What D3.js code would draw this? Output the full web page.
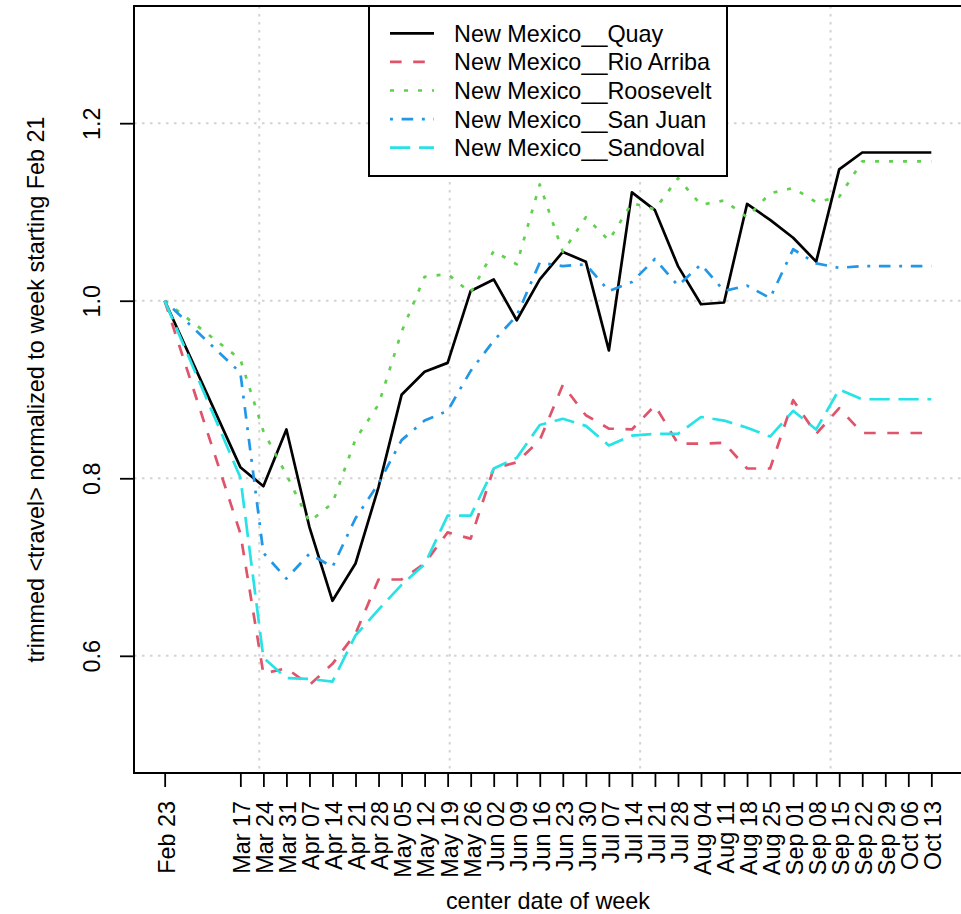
<!DOCTYPE html>
<html><head><meta charset="utf-8">
<script src="https://cdn.jsdelivr.net/npm/d3@7"></script>
<style>
body{margin:0;background:#fff}
svg{display:block}
text{font-family:"Liberation Sans",Arial,sans-serif;fill:#000}
</style>
</head><body>
<svg id="c" width="961" height="914"></svg>
<script>
// ---------- data ----------
const weekLabels = ["Feb 23","Mar 17","Mar 24","Mar 31","Apr 07","Apr 14","Apr 21","Apr 28",
  "May 05","May 12","May 19","May 26","Jun 02","Jun 09","Jun 16","Jun 23","Jun 30",
  "Jul 07","Jul 14","Jul 21","Jul 28","Aug 04","Aug 11","Aug 18","Aug 25",
  "Sep 01","Sep 08","Sep 15","Sep 22","Sep 29","Oct 06","Oct 13"];
const quay      = [1.0,0.8125,0.791,0.855,0.745,0.662,0.704,0.79,0.894,0.920,0.930,1.011,1.024,0.978,1.024,1.055,1.044,0.944,1.122,1.102,1.039,0.996,0.998,1.109,1.091,1.071,1.044,1.148,1.167,1.167,1.167,1.167];
const rioArriba = [1.0,0.738,0.580,0.586,0.567,0.591,0.625,0.686,0.686,0.704,0.739,0.732,0.811,0.818,0.843,0.905,0.871,0.856,0.855,0.882,0.839,0.839,0.840,0.811,0.811,0.888,0.850,0.879,0.851,0.851,0.851,0.851];
const roosevelt = [1.0,0.934,0.853,0.804,0.751,0.772,0.844,0.883,0.965,1.027,1.030,1.009,1.056,1.041,1.131,1.055,1.094,1.068,1.110,1.103,1.138,1.108,1.113,1.094,1.121,1.127,1.111,1.117,1.157,1.157,1.157,1.157];
const sanJuan   = [1.0,0.919,0.716,0.687,0.715,0.700,0.755,0.794,0.843,0.865,0.876,0.921,0.955,0.983,1.043,1.039,1.041,1.011,1.021,1.047,1.017,1.041,1.011,1.017,1.003,1.058,1.042,1.037,1.039,1.039,1.039,1.039];
const sandoval  = [1.0,0.801,0.598,0.575,0.574,0.571,0.623,0.652,0.680,0.703,0.758,0.758,0.811,0.823,0.860,0.867,0.859,0.837,0.848,0.850,0.850,0.869,0.865,0.857,0.847,0.876,0.855,0.900,0.889,0.889,0.889,0.889];
const seriesNames  = ["New Mexico__Quay","New Mexico__Rio Arriba","New Mexico__Roosevelt","New Mexico__San Juan","New Mexico__Sandoval"];
const seriesValues = [quay, rioArriba, roosevelt, sanJuan, sandoval];
const seriesColors = ["#000000","#DF536B","#61D04F","#2297E6","#28E2E5"];
const seriesDash   = [null,"11.6 11.6","4 10","2.9 8.7 11.6 8.7","20.3 8.7"];
const yTicks  = [0.6, 0.8, 1.0, 1.2];
const yLimits = [0.5, 1.3];
const gridDates = ["2020-03-22T18:00:00Z","2020-05-19T15:00:00Z","2020-07-16T12:00:00Z","2020-09-12T09:00:00Z"];
const xTitle = "center date of week";
const yTitle = "trimmed <travel> normalized to week starting Feb 21";

// ---------- layout ----------
const box = {left:134, top:6, right:962, bottom:773};
const FS = 23.4;
const svg = d3.select("#c");

const parse = d3.utcParse("%b %d %Y");
const dates = weekLabels.map(s => parse(s + " 2020"));
const t0 = dates[0], t1 = dates[dates.length-1];
const padT = (t1 - t0) * 0.04;
const x = d3.scaleUtc().domain([new Date(+t0 - padT), new Date(+t1 + padT)]).range([box.left, box.right]);
const padY = (yLimits[1]-yLimits[0]) * 0.04;
const y = d3.scaleLinear().domain([yLimits[0]-padY, yLimits[1]+padY]).range([box.bottom, box.top]);

// grid
const grid = svg.append("g").attr("stroke","#D3D3D3").attr("stroke-width",2).attr("stroke-dasharray","2.5 5.5");
grid.selectAll("line.h").data(yTicks).join("line").attr("class","h")
  .attr("x1",box.left).attr("x2",box.right).attr("y1",d=>y(d)).attr("y2",d=>y(d));
grid.selectAll("line.v").data(gridDates.map(s=>new Date(s))).join("line").attr("class","v")
  .attr("y1",box.top).attr("y2",box.bottom).attr("x1",d=>x(d)).attr("x2",d=>x(d));

// series
const line = d3.line().x((d,i)=>x(dates[i])).y(d=>y(d));
seriesValues.forEach((vals,k)=>{
  svg.append("path").datum(vals).attr("d",line).attr("fill","none")
    .attr("stroke",seriesColors[k]).attr("stroke-width",2.7)
    .attr("stroke-linejoin","round")
    .attr("stroke-dasharray",seriesDash[k]);
});

// x axis
const xa = svg.append("g").attr("transform",`translate(0,${box.bottom})`)
  .call(d3.axisBottom(x).tickValues(dates).tickFormat(d3.utcFormat("%b %d")).tickSize(14).tickPadding(0));
xa.select(".domain").remove();
xa.selectAll(".tick line").attr("stroke","#000").attr("stroke-width",1.8);
xa.selectAll(".tick text").attr("transform","rotate(-90)").attr("x",-28).attr("y",0)
  .attr("dy","0.4em").attr("text-anchor","end").style("font-size",FS+"px")
  .style("font-family","'Liberation Sans',Arial,sans-serif").attr("fill","#000");

// y axis
const ya = svg.append("g").attr("transform",`translate(${box.left},0)`)
  .call(d3.axisLeft(y).tickValues(yTicks).tickFormat(d3.format(".1f")).tickSize(14).tickPadding(0));
ya.select(".domain").remove();
ya.selectAll(".tick line").attr("stroke","#000").attr("stroke-width",1.8);
ya.selectAll(".tick text").attr("transform","rotate(-90)").attr("x",0).attr("y",-34)
  .attr("dy","0").attr("text-anchor","middle").style("font-size",FS+"px")
  .style("font-family","'Liberation Sans',Arial,sans-serif").attr("fill","#000");

// box
svg.append("rect").attr("x",box.left).attr("y",box.top)
  .attr("width",box.right-box.left).attr("height",box.bottom-box.top)
  .attr("fill","none").attr("stroke","#000").attr("stroke-width",2);

// titles
svg.append("text").attr("x",(box.left+box.right)/2).attr("y",909)
  .attr("text-anchor","middle").style("font-size",FS+"px").text(xTitle);
svg.append("text").attr("transform",`translate(44,${(box.top+box.bottom)/2}) rotate(-90)`)
  .attr("text-anchor","middle").style("font-size",FS+"px").text(yTitle);

// legend
const lg = svg.append("g");
lg.append("rect").attr("x",369).attr("y",box.top).attr("width",358).attr("height",170)
  .attr("fill","#fff").attr("stroke","#000").attr("stroke-width",2);
seriesNames.forEach((name,k)=>{
  const cy = 33.3 + k*28.6;
  lg.append("line").attr("x1",390).attr("x2",434).attr("y1",cy).attr("y2",cy)
    .attr("stroke",seriesColors[k]).attr("stroke-width",2.7).attr("stroke-dasharray",seriesDash[k]);
  lg.append("text").attr("x",454).attr("y",cy).attr("dy","0.36em")
    .style("font-size",FS+"px").text(name);
});
</script>
</body></html>
